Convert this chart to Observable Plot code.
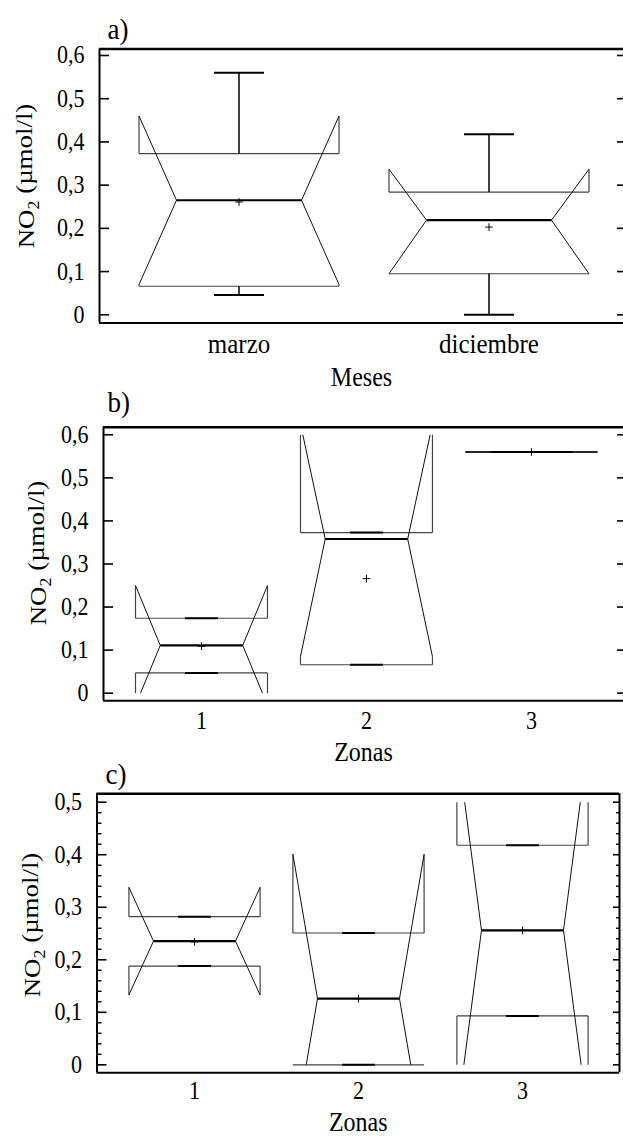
<!DOCTYPE html>
<html><head><meta charset="utf-8">
<script src="https://cdn.jsdelivr.net/npm/d3@7"></script>
<script src="https://cdn.jsdelivr.net/npm/@observablehq/plot@0.6"></script>
<style>
body{margin:0;background:#fff;}
#chart{width:623px;}
#chart svg{display:block;overflow:visible;}
#chart svg text{font-family:"Liberation Serif","Tinos","DejaVu Serif",serif;}
</style></head><body><div id="chart"></div>
<script>
const FONT = "Liberation Serif, Tinos, DejaVu Serif, serif";

// ---- Panel a) Meses ----
const mesesCats   = ["marzo", "diciembre"];
const mesesMin    = [0.046, 0.0];
const mesesQ1     = [0.066, 0.095];
const mesesMedian = [0.265, 0.219];
const mesesQ3     = [0.373, 0.284];
const mesesMax    = [0.560, 0.418];
const mesesMean   = [0.261, 0.203];
const mesesNotchLo = [0.070, 0.095];
const mesesNotchHi = [0.460, 0.337];

// ---- Panel b) Zonas ----
const zonasBCats   = ["1", "2", "3"];
const zonasBMin    = [0.047, 0.066, 0.560];
const zonasBQ1     = [0.047, 0.066, 0.560];
const zonasBMedian = [0.111, 0.358, 0.560];
const zonasBQ3     = [0.174, 0.373, 0.560];
const zonasBMax    = [0.174, 0.373, 0.560];
const zonasBMean   = [0.109, 0.266, 0.560];
const zonasBNotchLo = [-0.028, 0.085, 0.560];
const zonasBNotchHi = [0.250, 0.625, 0.560];

// ---- Panel c) Zonas ----
const zonasCCats   = ["1", "2", "3"];
const zonasCMin    = [0.188, 0.000, 0.093];
const zonasCQ1     = [0.188, 0.000, 0.093];
const zonasCMedian = [0.2355, 0.126, 0.256];
const zonasCQ3     = [0.282, 0.251, 0.418];
const zonasCMax    = [0.282, 0.251, 0.418];
const zonasCMean   = [0.234, 0.126, 0.256];
const zonasCNotchLo = [0.133, -0.149, -0.101];
const zonasCNotchHi = [0.338, 0.401, 0.613];

// tick values
const yTicksAB = [0, 0.1, 0.2, 0.3, 0.4, 0.5, 0.6];
const yTicksC  = [0, 0.1, 0.2, 0.3, 0.4, 0.5];
const yMinorC  = [0.02,0.04,0.06,0.08,0.12,0.14,0.16,0.18,0.22,0.24,0.26,0.28,0.32,0.34,0.36,0.38,0.42,0.44,0.46,0.48];

const fmt = d => d === 0 ? "0" : d.toFixed(1).replace(".", ",");

function stats(cats, mn, q1, md, q3, mx, mean, nlo, nhi) {
  return cats.map((c, i) => ({i: i + 1, name: c, min: mn[i], q1: q1[i], med: md[i], q3: q3[i], max: mx[i], mean: mean[i], nLo: nlo[i], nHi: nhi[i]}));
}

function boxSegments(st, clipLo, clipHi) {
  const segs = [];
  const BW = 0.4, IW = 0.25, CW = 0.1;
  const clamp = v => Math.max(clipLo, Math.min(clipHi, v));
  st.forEach(s => {
    const c = s.i;
    segs.push({k: "box", x1: c - BW, x2: c + BW, y1: s.q1, y2: s.q1});
    segs.push({k: "box", x1: c - BW, x2: c + BW, y1: s.q3, y2: s.q3});
    for (const side of [-1, 1]) {
      for (const [q, n] of [[s.q3, s.nHi], [s.q1, s.nLo]]) {
        const nc = clamp(n);
        segs.push({k: "side", x1: c + side * BW, x2: c + side * BW, y1: q, y2: nc});
        const f = n === s.med ? 1 : (nc - s.med) / (n - s.med);
        segs.push({k: "diag", x1: c + side * IW, y1: s.med, x2: c + side * (IW + (BW - IW) * f), y2: nc});
      }
    }
    segs.push({k: "med", x1: c - IW, x2: c + IW, y1: s.med, y2: s.med});
    segs.push({k: "whisk", x1: c, x2: c, y1: s.q3, y2: s.max});
    segs.push({k: "whisk", x1: c, x2: c, y1: s.q1, y2: s.min});
    segs.push({k: "cap", x1: c - CW, x2: c + CW, y1: s.max, y2: s.max});
    segs.push({k: "cap", x1: c - CW, x2: c + CW, y1: s.min, y2: s.min});
  });
  return segs;
}

function panel(cfg) {
  const st = cfg.stats;
  const segs = boxSegments(st, 0, cfg.clipTop);
  const L = d => segs.filter(s => s.k === d);
  const link = (k, o) => Plot.link(L(k), {x1: "x1", y1: "y1", x2: "x2", y2: "y2", strokeLinecap: "butt", ...o});
  const marks = [
    Plot.ruleY([cfg.yDomain[0]], {stroke: "#000", strokeWidth: 2}),
    Plot.ruleY([cfg.yDomain[1]], {stroke: "#000", strokeWidth: 2.5}),
    Plot.ruleX([cfg.xDomain[0]], {stroke: "#000", strokeWidth: 2}),
    Plot.axisY({anchor: "left", ticks: cfg.yTicks, tickSize: 0, tickPadding: 15, tickFormat: fmt, fontSize: 22, label: null}),
    Plot.axisY({anchor: "left", ticks: cfg.yTicks, tickSize: -10, text: null, strokeWidth: 1.6, label: null}),
    Plot.axisY({anchor: "right", ticks: cfg.yTicks, tickSize: -7, text: null, strokeWidth: 1.6, label: null}),
    link("box", {stroke: "#444", strokeWidth: 1.2}),
    link("side", {stroke: "#444", strokeWidth: 1.2}),
    link("diag", {stroke: "#111", strokeWidth: 1}),
    link("whisk", {stroke: "#000", strokeWidth: 1.5}),
    link("cap", {stroke: "#000", strokeWidth: 2}),
    link("med", {stroke: "#000", strokeWidth: 2.2}),
    Plot.dot(st, {x: "i", y: "mean", symbol: "plus", r: 2.6, stroke: "#000", strokeWidth: 1}),
    Plot.text(st, {x: "i", y: () => cfg.yDomain[0], text: "name", dy: cfg.catDy, fontSize: cfg.catSize, lineAnchor: "middle"}),
    Plot.text([cfg.xTitle], {frameAnchor: "bottom", dy: cfg.titleDy, fontSize: 24, lineAnchor: "middle"}),
    Plot.text([cfg.letter], {frameAnchor: "top-left", dx: cfg.letterDx, dy: cfg.letterDy, fontSize: 27, textAnchor: "start", lineAnchor: "middle"})
  ];
  if (cfg.minor) {
    marks.push(Plot.axisY({anchor: "left", ticks: cfg.minor, tickSize: -5, text: null, strokeWidth: 1.4, label: null}));
    marks.push(Plot.axisY({anchor: "right", ticks: cfg.minor, tickSize: -4, text: null, strokeWidth: 1.4, label: null}));
  }
  if (cfg.rightFrame) marks.push(Plot.ruleX([cfg.xDomain[1]], {stroke: "#000", strokeWidth: 2}));
  const p = Plot.plot({
    width: 623, height: cfg.height,
    marginLeft: cfg.mL, marginRight: cfg.mR, marginTop: cfg.mT, marginBottom: cfg.mB,
    x: {type: "linear", domain: cfg.xDomain, axis: null},
    y: {domain: cfg.yDomain, axis: null, label: null},
    style: {fontFamily: FONT, fontSize: "22px", color: "#000", background: "#fff"},
    marks
  });
  const svg = d3.select(p);
  // the reference glyphs are a little taller than wide: stretch horizontal text vertically about its anchor
  svg.selectAll("text").each(function() {
    const tr = this.getAttribute("transform") || "";
    const x = parseFloat(this.getAttribute("x")) || 0;
    const y = /em$/.test(this.getAttribute("y") || "") ? 0 : (parseFloat(this.getAttribute("y")) || 0);
    this.setAttribute("transform", `${tr} translate(${x},${y}) scale(1,1.13) translate(${-x},${-y})`);
  });
  // rotated y-axis title with subscript
  const t = svg.append("text")
    .attr("transform", `translate(${cfg.yLabelX},${cfg.yLabelY}) scale(1,1.12) rotate(-90)`)
    .attr("text-anchor", "middle")
    .attr("dy", "0.35em")
    .attr("font-size", 24)
    .attr("fill", "#000");
  t.append("tspan").text("NO");
  t.append("tspan").attr("font-size", 16).attr("dy", "0.3em").text("2");
  t.append("tspan").attr("dy", "-0.3em").text(" (\u00b5mol/l)");
  return p;
}

const chart = document.getElementById("chart");

chart.append(panel({
  stats: stats(mesesCats, mesesMin, mesesQ1, mesesMedian, mesesQ3, mesesMax, mesesMean, mesesNotchLo, mesesNotchHi),
  height: 380, mL: 99, mR: 0, mT: 48.5, mB: 57.5,
  xDomain: [0.442, 2.538], yDomain: [-0.019, 0.615], clipTop: 0.6,
  yTicks: yTicksAB, catDy: 21, catSize: 25, xTitle: "Meses", titleDy: 54,
  letter: "a)", letterDx: 8, letterDy: -20,
  yLabelX: 26, yLabelY: 176
}));

chart.append(panel({
  stats: stats(zonasBCats, zonasBMin, zonasBQ1, zonasBMedian, zonasBQ3, zonasBMax, zonasBMean, zonasBNotchLo, zonasBNotchHi),
  height: 370, mL: 103, mR: 0, mT: 46.7, mB: 49.7,
  xDomain: [0.406, 3.558], yDomain: [-0.0177, 0.6176], clipTop: 0.6,
  yTicks: yTicksAB, catDy: 20, catSize: 22, xTitle: "Zonas", titleDy: 52,
  letter: "b)", letterDx: 4, letterDy: -25,
  yLabelX: 38, yLabelY: 173
}));

chart.append(panel({
  stats: stats(zonasCCats, zonasCMin, zonasCQ1, zonasCMedian, zonasCQ3, zonasCMax, zonasCMean, zonasCNotchLo, zonasCNotchHi),
  height: 388, mL: 96.5, mR: 4, mT: 43.3, mB: 65.7,
  xDomain: [0.4055, 3.5915], yDomain: [-0.0152, 0.516], clipTop: 0.5,
  yTicks: yTicksC, minor: yMinorC, rightFrame: true, catDy: 18, catSize: 22, xTitle: "Zonas", titleDy: 50,
  letter: "c)", letterDx: 8.5, letterDy: -20,
  yLabelX: 32, yLabelY: 175
}));
</script></body></html>
